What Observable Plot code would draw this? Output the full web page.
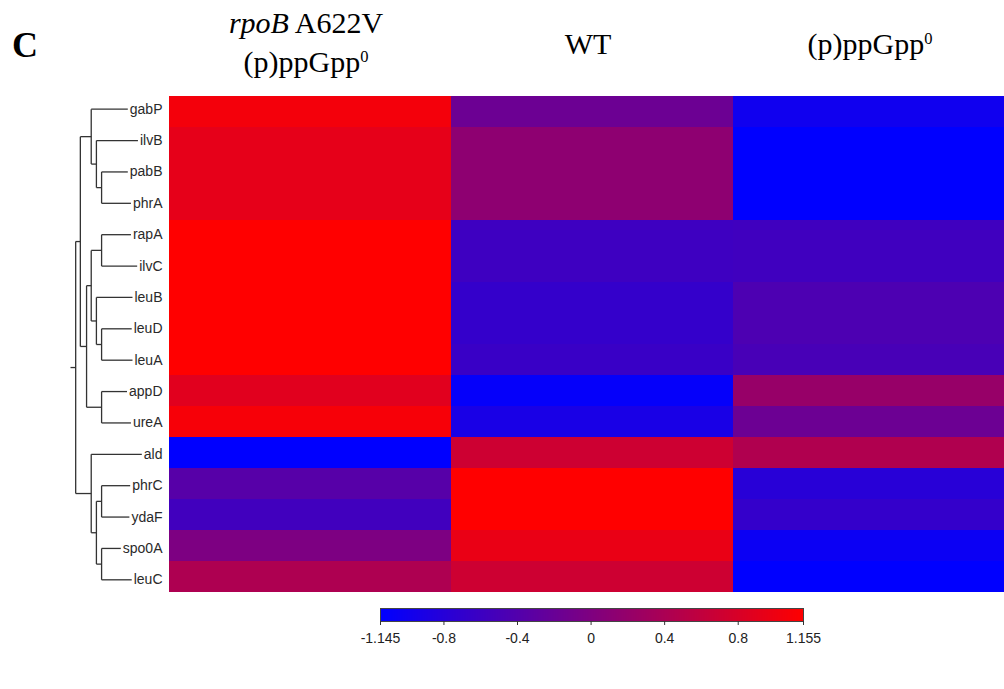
<!DOCTYPE html>
<html><head><meta charset="utf-8">
<script src="https://cdn.jsdelivr.net/npm/d3@7"></script>
<script src="https://cdn.jsdelivr.net/npm/@observablehq/plot@0.6"></script>
<style>
html,body{margin:0;padding:0;background:#fff;overflow:hidden;}
#wrap{position:relative;width:1004px;height:689px;overflow:hidden;background:#fff;}
.hdr{position:absolute;font-family:"Liberation Serif","Times New Roman",serif;font-size:30px;color:#000;text-align:center;white-space:nowrap;transform:translateX(-50%);}
.hdr sup{font-size:0.55em;vertical-align:0.62em;line-height:0;}
.panel{position:absolute;left:12px;top:27px;font-family:"Liberation Serif","Times New Roman",serif;font-weight:bold;font-size:36px;line-height:36px;color:#000;}
</style></head><body>
<div id="wrap"><div class="panel">C</div></div>
<script>
// ---- data ----
const samples = ["rpoB A622V (p)ppGpp0", "WT", "(p)ppGpp0"];
const sampleHeaders = ["<i>rpoB</i> A622V<br>(p)ppGpp<sup>0</sup>", "WT", "(p)ppGpp<sup>0</sup>"];
const genes = ["gabP","ilvB","pabB","phrA","rapA","ilvC","leuB","leuD","leuA","appD","ureA","ald","phrC","ydaF","spo0A","leuC"];
const rpoB_A622V = [1.06, 0.93, 0.93, 0.93, 1.155, 1.155, 1.155, 1.155, 1.155, 0.88, 1.08, -1.145, -0.36, -0.56, -0.02, 0.42];
const WT        = [-0.17, 0.14, 0.14, 0.14, -0.59, -0.59, -0.68, -0.68, -0.63, -1.10, -0.92, 0.70, 1.155, 1.155, 0.97, 0.70];
const ppGpp0    = [-1.00, -1.145, -1.145, -1.145, -0.57, -0.57, -0.45, -0.45, -0.50, 0.22, -0.17, 0.44, -0.78, -0.68, -1.05, -1.145];
const colorDomain = [-1.145, 1.155];
const colorbarTicks = [-1.145, -0.8, -0.4, 0, 0.4, 0.8, 1.155];
// dendrogram merges (node "m{i+1}" = mergeLeft[i] + mergeRight[i] at mergeHeight[i])
const mergeLeft   = ["pabB","ilvB","gabP","rapA","leuD","leuB","m4","appD","m7","m3","phrC","spo0A","m11","ald","m10"];
const mergeRight  = ["phrA","m1","m2","ilvC","leuA","m5","m6","ureA","m8","m9","ydaF","leuC","m12","m13","m14"];
const mergeHeight = [5.0, 6.0, 7.0, 5.0, 5.0, 6.0, 7.0, 5.0, 7.9, 9.1, 5.0, 5.0, 6.0, 7.0, 10.0];
const rootHeight = 11;

// ---- build ----
const FONT = '"Liberation Sans", Arial, sans-serif';
const series = [rpoB_A622V, WT, ppGpp0];
const table = genes.flatMap((g, i) => samples.map((s, j) => ({gene: g, sample: s, value: series[j][i]})));
const colorScale = {type: "linear", domain: colorDomain, range: ["#0000ff", "#ff0000"], interpolate: "rgb"};
const wrap = document.getElementById("wrap");

const heat = Plot.plot({
  width: 1015, height: 502, marginLeft: 169, marginRight: 0, marginTop: 0, marginBottom: 0,
  x: {domain: samples, padding: 0, axis: null},
  y: {domain: genes, padding: 0, axis: null},
  color: colorScale,
  style: {maxWidth: "none", background: "transparent"},
  marks: [Plot.cell(table, {x: "sample", y: "gene", fill: "value", inset: 0, shapeRendering: "crispEdges"})]
});
Object.assign(heat.style, {position: "absolute", left: "0px", top: "93px"});
wrap.appendChild(heat);

// dendrogram
const xOpts = {domain: [0, rootHeight], range: [127, 70]};
const xs = Plot.scale({x: xOpts});
const ctx = document.createElement("canvas").getContext("2d");
ctx.font = `14px ${FONT}`;
const labelRightPx = 162;
const labelX = xs.invert(labelRightPx);
const nodeY = new Map(genes.map((g, i) => [g, i]));
const nodeH = new Map(genes.map(g => [g, xs.invert(labelRightPx - ctx.measureText(g).width - 2)]));
const segs = [];
mergeLeft.forEach((a, i) => {
  const b = mergeRight[i], h = mergeHeight[i], id = "m" + (i + 1);
  const ya = nodeY.get(a), yb = nodeY.get(b);
  segs.push({x1: h, x2: h, y1: ya, y2: yb});
  segs.push({x1: nodeH.get(a), x2: h, y1: ya, y2: ya});
  segs.push({x1: nodeH.get(b), x2: h, y1: yb, y2: yb});
  nodeY.set(id, (ya + yb) / 2); nodeH.set(id, h);
});
const rootId = "m" + mergeLeft.length;
segs.push({x1: nodeH.get(rootId), x2: rootHeight, y1: nodeY.get(rootId), y2: nodeY.get(rootId)});

const dendro = Plot.plot({
  width: 169, height: 502, marginTop: 0, marginBottom: 0, marginLeft: 0, marginRight: 0,
  x: {...xOpts, axis: null},
  y: {domain: [-0.5, genes.length - 0.5], range: [0, 502], axis: null},
  style: {maxWidth: "none", background: "transparent", fontFamily: FONT},
  marks: [
    Plot.link(segs, {x1: "x1", x2: "x2", y1: "y1", y2: "y2", stroke: "#333", strokeWidth: 1.3}),
    Plot.text(genes, {x: labelX, y: (d, i) => i, text: d => d, textAnchor: "end", fontSize: 14, fill: "#2a2a2a"})
  ]
});
Object.assign(dendro.style, {position: "absolute", left: "0px", top: "93px"});
wrap.appendChild(dendro);

// colour bar
const cbar = Plot.plot({
  width: 1004, height: 52, marginLeft: 380, marginRight: 201, marginTop: 8, marginBottom: 31,
  x: {domain: colorDomain},
  y: {domain: [0, 1], axis: null},
  color: colorScale,
  style: {maxWidth: "none", background: "transparent", fontFamily: FONT, fontSize: "14px", color: "#222"},
  marks: [
    Plot.raster({x1: colorDomain[0], x2: colorDomain[1], y1: 0, y2: 1, fill: (x, y) => x, width: 423, height: 1, imageRendering: "auto"}),
    Plot.frame({stroke: "#444", strokeWidth: 1}),
    Plot.axisX(colorbarTicks, {tickSize: 4, tickPadding: 8, tickFormat: d => String(d), label: null, stroke: "#333", fill: "#222", fontSize: 14})
  ]
});
Object.assign(cbar.style, {position: "absolute", left: "0px", top: "600px"});
wrap.appendChild(cbar);

// column headers
const sx = heat.scale("x");
const tops = [3, 29, 29];
samples.forEach((s, j) => {
  const d = document.createElement("div");
  d.className = "hdr";
  d.innerHTML = sampleHeaders[j];
  d.style.left = (sx.apply(s) + sx.bandwidth / 2 - 4) + "px";
  d.style.top = tops[j] + "px";
  d.style.lineHeight = j === 0 ? "39px" : "30px";
  wrap.appendChild(d);
});
</script>
</body></html>
